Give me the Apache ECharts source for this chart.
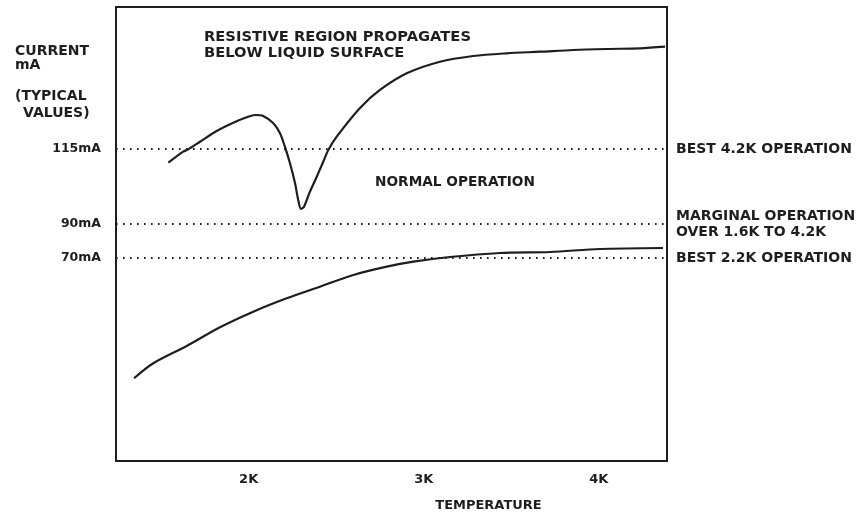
<!DOCTYPE html>
<html>
<head>
<meta charset="utf-8">
<script src="https://cdn.jsdelivr.net/npm/echarts@6/dist/echarts.min.js"></script>
<style>
html,body{margin:0;padding:0;background:#fff;}
#chart{width:868px;height:517px;}
</style>
</head>
<body>
<div id="chart"></div>
<script>
// Temperature in K (x); current in relative plot units of the schematic (y, 0..100)
var xTicks = [2, 3, 4];
var upperT = [1.541,1.626,1.655,1.722,1.817,1.912,1.989,2.036,2.083,2.141,2.179,2.207,2.236,2.265,2.283,2.299,2.316,2.350,2.389,2.426,2.455,2.503,2.636,2.750,2.903,3.093,3.283,3.474,3.665,3.855,4.046,4.236,4.379];
var upperI = [65.70,68.13,68.66,70.33,72.69,74.52,75.70,76.21,75.99,74.38,72.18,69.23,65.57,61.17,57.49,55.51,56.01,59.32,62.62,65.92,68.50,71.43,77.75,81.72,85.40,87.95,89.21,89.80,90.15,90.53,90.75,90.90,91.26];
var lowerT = [1.345,1.455,1.646,1.836,2.026,2.217,2.407,2.598,2.789,2.941,3.150,3.436,3.722,4.007,4.367];
var lowerI = [18.22,21.52,25.33,29.45,32.89,35.84,38.39,40.97,42.80,43.90,44.93,45.81,46.04,46.70,46.92];
var levelNames = ['115mA', '90mA', '70mA'];
var levelValues = [68.72, 52.20, 44.71];
var levelNotes = ['BEST 4.2K OPERATION', 'MARGINAL OPERATION\nOVER 1.6K TO 4.2K', 'BEST 2.2K OPERATION'];

var INK = '#1e1e1e';
var FONT = 'bold 14.7px "DejaVu Sans"';
var FONT_L = 'bold 14px "DejaVu Sans"';
var FONT_N = 'bold 13.7px "DejaVu Sans"';
function pairs(xs, ys){ return xs.map(function(x,i){ return [x, ys[i]]; }); }

var chart = echarts.init(document.getElementById('chart'), null, {renderer:'canvas'});
chart.setOption({
  animation: false,
  backgroundColor: '#ffffff',
  textStyle: {fontFamily: 'DejaVu Sans', color: INK},
  grid: {left: 116, right: 201, top: 7, bottom: 56, show: true, borderColor: INK, borderWidth: 2, backgroundColor: 'transparent'},
  xAxis: {
    type: 'value', min: 1.242, max: 4.390,
    axisLine: {show: false}, axisTick: {show: false}, splitLine: {show: false},
    axisLabel: {customValues: xTicks, formatter: function(v){ return v + 'K'; }, margin: 12,
      color: INK, fontFamily: 'DejaVu Sans', fontWeight: 'bold', fontSize: 13},
    name: 'TEMPERATURE', nameLocation: 'middle', nameGap: 38,
    nameTextStyle: {color: INK, fontFamily: 'DejaVu Sans', fontWeight: 'bold', fontSize: 13, padding: [0,0,0,194]}
  },
  yAxis: {
    type: 'value', min: 0, max: 100,
    axisLine: {show: false}, axisTick: {show: false}, splitLine: {show: false},
    axisLabel: {customValues: levelValues, margin: 15,
      formatter: function(v){
        var best = 0;
        for (var i = 1; i < levelValues.length; i++) if (Math.abs(levelValues[i]-v) < Math.abs(levelValues[best]-v)) best = i;
        return levelNames[best];
      },
      color: INK, fontFamily: 'DejaVu Sans', fontWeight: 'bold', fontSize: 12.5}
  },
  series: [
    {
      type: 'line', data: pairs(upperT, upperI), showSymbol: false, smooth: 0.3,
      lineStyle: {color: INK, width: 2.2}, z: 3,
      markLine: {
        silent: true, symbol: 'none',
        lineStyle: {color: INK, type: [1.6, 5.4], width: 1.8},
        label: {position: 'end', distance: 9, color: INK, fontFamily: 'DejaVu Sans', fontWeight: 'bold', fontSize: 14, lineHeight: 16,
          formatter: function(p){ return levelNotes[p.dataIndex]; }},
        data: levelValues.map(function(v){ return {yAxis: v}; })
      }
    },
    {
      type: 'line', data: pairs(lowerT, lowerI), showSymbol: false, smooth: 0.3,
      lineStyle: {color: INK, width: 2.2}, z: 3
    }
  ],
  graphic: [
    {type:'text', left: 15, top: 44, style:{text:'CURRENT', font: FONT_L, fill: INK}},
    {type:'text', left: 15, top: 58, style:{text:'mA', font: FONT_L, fill: INK}},
    {type:'text', left: 15, top: 89, style:{text:'(TYPICAL', font: FONT_L, fill: INK}},
    {type:'text', left: 23, top: 106, style:{text:'VALUES)', font: FONT_L, fill: INK}},
    {type:'text', left: 204, top: 30, style:{text:'RESISTIVE REGION PROPAGATES', font: FONT, fill: INK}},
    {type:'text', left: 204, top: 46, style:{text:'BELOW LIQUID SURFACE', font: FONT, fill: INK}},
    {type:'text', left: 375, top: 175, style:{text:'NORMAL OPERATION', font: FONT_N, fill: INK}}
  ]
});
</script>
</body>
</html>
